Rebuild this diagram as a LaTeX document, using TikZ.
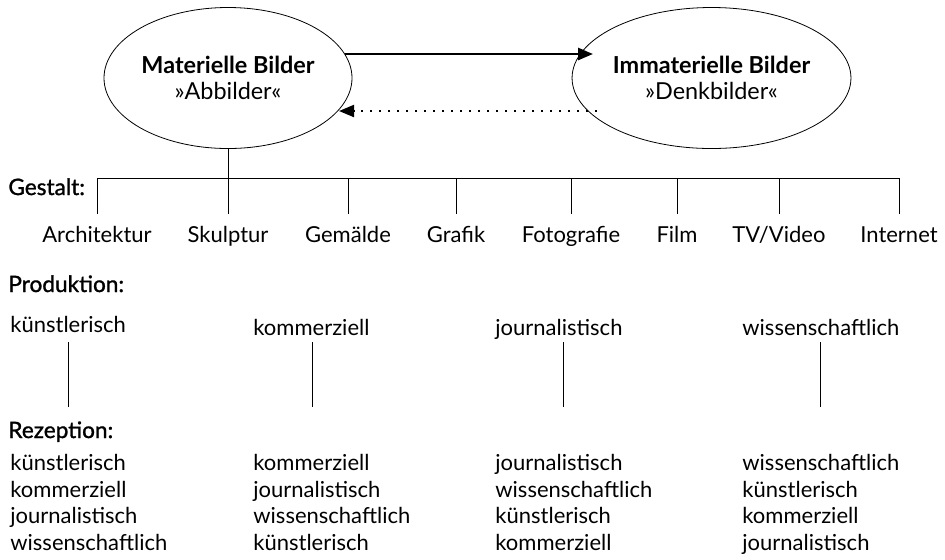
\documentclass[tikz,border=0pt]{standalone}
\usepackage{fontspec}
\setmainfont{Lato}
\newfontfamily\headfont{Lato}[FakeBold=1.2]
\usepackage{tikz}
\usetikzlibrary{shapes.geometric, arrows.meta, positioning, calc}

\begin{document}
\begin{tikzpicture}[
  x=0.5pt, y=-0.5pt,
  bild/.style={ellipse, draw, minimum width=124pt, minimum height=70.5pt, inner sep=0pt, align=center, font=\fontsize{11.7}{13}\selectfont},
  arrow/.style={-{Triangle[length=7.5pt,width=6pt]}, line width=1.3pt},
  feedback/.style={-{Triangle[length=7.5pt,width=6pt]}, line width=1pt, dash pattern=on 1.1pt off 3.4pt},
  head/.style={anchor=base west, inner sep=0pt, font=\headfont\fontsize{11.3}{12}\selectfont},
  form/.style={anchor=base, inner sep=0pt, font=\fontsize{11}{12}\selectfont},
  word/.style={anchor=base west, inner sep=0pt, font=\fontsize{11}{12}\selectfont}
]
\useasboundingbox (0,0) rectangle (945,559);

% Nodes
\node[bild] (M) at (228,78) {\textbf{Materielle Bilder}\\»Abbilder«};
\node[bild] (I) at (711.5,78) {\textbf{Immaterielle Bilder}\\»Denkbilder«};

% Arrows between the ellipses
\draw[arrow] ($(M.center)+(116.5,-24)$) -- ($(I.center)+(-118.5,-24)$);
\draw[feedback] ($(I.center)+(-114.5,33)$) -- ($(M.center)+(111,33)$);

% Gestalt
\node[head] (gestalt) at (8,195) {Gestalt:};
\coordinate (barL) at (97,178);
\coordinate (barR) at (899,178);
\coordinate (stem) at (228,214);
\draw (barL) -- (barR);
\draw (M.south) -- (stem);
\foreach \x/\name/\txt in {97/archi/Architektur, 228/skulp/Skulptur, 348/gemae/Gemälde,
    456/grafik/Grafik, 571/foto/Fotografie, 677/film/Film, 779/video/{TV/Video}, 899/inet/Internet} {
  \coordinate (\name-top) at (\x,178);
  \coordinate (\name-bot) at (\x,214);
  \draw (\name-top) -- (\name-bot);
  \node[form] (\name) at (\x,242) {\txt};
}

% Produktion
\node[head] (prod) at (8,292) {Produktion:};
\node[word] (p1) at (10,332) {künstlerisch};
\node[word] (p2) at (253,335) {kommerziell};
\node[word] (p3) at (495,335) {journalistisch};
\node[word] (p4) at (742,335) {wissenschaftlich};
\foreach \i/\x in {1/68, 2/312, 3/563, 4/820} {
  \coordinate (p\i-top) at (\x,342);
  \coordinate (p\i-bot) at (\x,407);
  \draw (p\i-top) -- (p\i-bot);
}

% Rezeption
\node[head] (rez) at (8,438) {Rezeption:};
\foreach \col/\x/\a/\b/\c/\d in {
    1/10/künstlerisch/kommerziell/journalistisch/wissenschaftlich,
    2/253/kommerziell/journalistisch/wissenschaftlich/künstlerisch,
    3/495/journalistisch/wissenschaftlich/künstlerisch/kommerziell,
    4/742/wissenschaftlich/künstlerisch/kommerziell/journalistisch} {
  \node[word] (r\col a) at (\x,470) {\a};
  \node[word] (r\col b) at (\x,497) {\b};
  \node[word] (r\col c) at (\x,523) {\c};
  \node[word] (r\col d) at (\x,550) {\d};
}

\end{tikzpicture}
\end{document}
